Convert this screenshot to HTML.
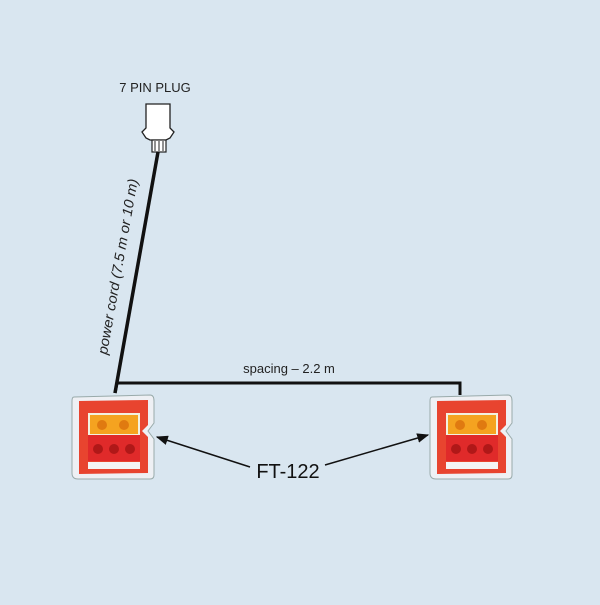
<!DOCTYPE html>
<html><head><style>
body{margin:0;width:600px;height:600px;background:#d9e6f0;overflow:hidden;font-family:"Liberation Sans",sans-serif}
</style></head><body>
<svg width="600" height="600" viewBox="0 0 600 600" xmlns="http://www.w3.org/2000/svg">
<rect width="600" height="600" fill="#d9e6f0"/>
<defs>
<marker id="ah" viewBox="0 0 10 10" refX="9" refY="5" markerWidth="8" markerHeight="8" orient="auto"><path d="M0,1 L10,5 L0,9 z" fill="#111"/></marker>
<g id="lamp">
<path d="M2,2 L78,0 Q82,0 82,6 L82,28 L76,36 L82,44 L82,80 Q82,84 78,84 L6,84 Q0,84 0,78 L0,6 Q0,2 2,2z" fill="#eef0f4" stroke="#9aa" stroke-width="1"/>
<path d="M7,6 L76,5 L76,30 L70,36 L76,42 L76,78 L7,79z" fill="#e8442f"/>
<rect x="16" y="18" width="52" height="22" fill="#f2f2e0"/>
<rect x="18" y="20" width="48" height="19" fill="#f5a320"/>
<circle cx="30" cy="30" r="5" fill="#e07a10"/><circle cx="52" cy="30" r="5" fill="#e07a10"/>
<rect x="16" y="40" width="52" height="26" fill="#e02a2a"/>
<circle cx="26" cy="54" r="5" fill="#b01818"/><circle cx="42" cy="54" r="5" fill="#b01818"/><circle cx="58" cy="54" r="5" fill="#b01818"/>
<rect x="16" y="67" width="52" height="7" fill="#f4f4f4"/>
</g>
</defs>
<text x="155" y="92" font-size="13" text-anchor="middle" fill="#222">7 PIN PLUG</text>
<path d="M146,104 L170,104 L170,128 L174,132 L170,138 L166,140 L150,140 L146,138 L142,132 L146,128z" fill="#fff" stroke="#222" stroke-width="1.3"/>
<rect x="152" y="140" width="14" height="12" fill="#fff" stroke="#222" stroke-width="1.2"/>
<path d="M155,141 V151 M159,141 V151 M163,141 V151" stroke="#222"/>
<path d="M158,152 L115,393" stroke="#111" stroke-width="3.5" fill="none"/>
<path d="M115,393 L117,383 L460,383 L460,395" stroke="#111" stroke-width="3" fill="none"/>
<text x="0" y="0" font-size="14" font-style="italic" fill="#222" textLength="178" lengthAdjust="spacingAndGlyphs" transform="translate(107,355) rotate(-80)">power cord (7.5 m or 10 m)</text>
<text x="289" y="373" font-size="13" text-anchor="middle" fill="#222">spacing – 2.2 m</text>
<use href="#lamp" x="72" y="395"/>
<use href="#lamp" x="430" y="395"/>
<path d="M250,467 L157,437" stroke="#111" stroke-width="1.5" marker-end="url(#ah)"/>
<path d="M325,465 L428,435" stroke="#111" stroke-width="1.5" marker-end="url(#ah)"/>
<text x="288" y="478" font-size="20" text-anchor="middle" fill="#111">FT-122</text>
</svg>
</body></html>
